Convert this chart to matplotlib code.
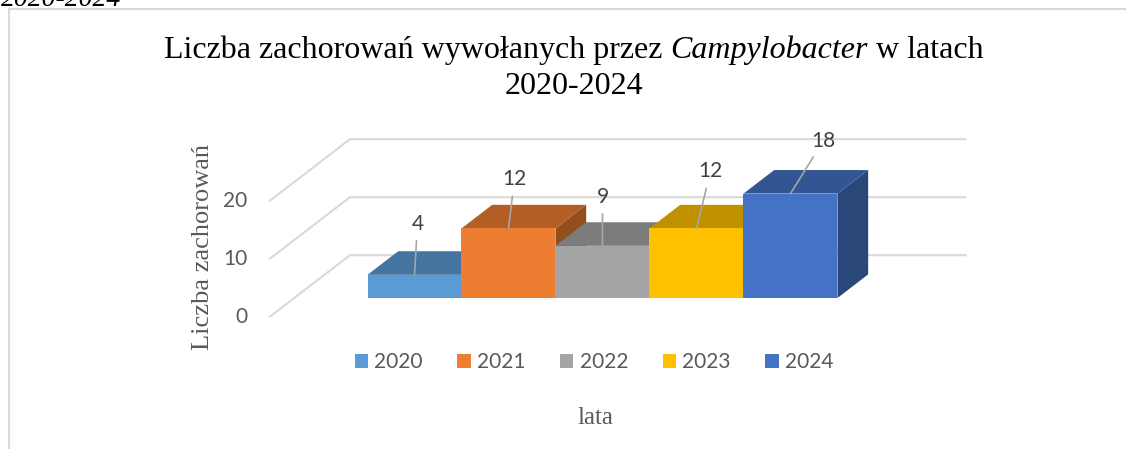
import matplotlib.pyplot as plt
import matplotlib.colors as mcolors
from matplotlib.patches import Polygon, Patch
from matplotlib.lines import Line2D

years = ['2020', '2021', '2022', '2023', '2024']
cases = [4, 12, 9, 12, 18]
colors = ['#5B9BD5', '#ED7D31', '#A5A5A5', '#FFC000', '#4472C4']
grid_values = [0, 10, 20]
# label offsets from bar top (pixels)
label_offsets = [(3, 51), (6, 49), (0, 49), (14, 57), (33, 53)]

plt.rcParams['font.family'] = ['Liberation Serif', 'DejaVu Serif']

W, H = 1126, 449
fig = plt.figure(figsize=(W / 100, H / 100), dpi=100)
ax = fig.add_axes([0, 0, 1, 1])
ax.set_xlim(-6.41, 5.57)
ax.set_ylim(-26.03, 51.38)
ax.axis('off')

# fake 3D: x unit = one bar width, y unit = one case
dx, dy = 0.86, 10.7          # full floor depth
f0, f1 = 0.31, 0.69          # bars sit between these depth fractions
floor_l, floor_r = -3.28, 3.28
ddx, ddy = (f1 - f0) * dx, (f1 - f0) * dy

num_font = dict(family='Lato', size=15)
grid_col = '#d9d9d9'
for g in grid_values:
    xs = [floor_l - f0 * dx, floor_l + (1 - f0) * dx, floor_r + (1 - f0) * dx]
    ys = [g - f0 * dy, g + (1 - f0) * dy, g + (1 - f0) * dy]
    ax.plot(xs, ys, color=grid_col, lw=1.5, zorder=1, solid_capstyle='butt')
    ax.annotate(str(g), xy=(xs[0], ys[0]), xytext=(-22, 0), textcoords='offset pixels',
                ha='right', va='center', color='#595959', **num_font)

for i, (v, c) in enumerate(zip(cases, colors)):
    rgb = mcolors.to_rgb(c)
    top_c = tuple(k * 0.75 for k in rgb)
    side_c = tuple(k * 0.62 for k in rgb)
    x0 = i - 2.5
    x1 = x0 + 1
    side = Polygon([(x1, 0), (x1 + ddx, ddy), (x1 + ddx, v + ddy), (x1, v)],
                   facecolor=side_c, lw=0, zorder=2)
    top = Polygon([(x0, v), (x1, v), (x1 + ddx, v + ddy), (x0 + ddx, v + ddy)],
                  facecolor=top_c, lw=0, zorder=2)
    front = Polygon([(x0, 0), (x1, 0), (x1, v), (x0, v)],
                    facecolor=c, lw=0, zorder=2)
    for p in (side, top, front):
        ax.add_patch(p)
    ox, oy = label_offsets[i]
    ax.annotate(str(v), xy=(i - 2, v), xytext=(ox, oy), textcoords='offset pixels',
                ha='center', va='center', color='#404040',
                arrowprops=dict(arrowstyle='-', color='#a6a6a6', lw=1.2,
                                shrinkA=3, shrinkB=0), zorder=3, **num_font)

handles = [Patch(facecolor=c, lw=0) for c in colors]
fig.legend(handles=handles, labels=years, loc='center',
           bbox_to_anchor=(594 / W, 1 - 362 / H), ncol=5, frameon=False,
           prop=num_font, labelcolor='#595959',
           handlelength=0.65, handleheight=0.65, handletextpad=0.3, columnspacing=1.65)

# title line 1 built from pieces so the species name can be italic
renderer = fig.canvas.get_renderer()
parts = [('Liczba zachorowań wywołanych przez\u00a0', 'normal'),
         ('Campylobacter', 'italic'),
         ('\u00a0w latach', 'normal')]
title_size = 23
pieces = []
for s, st in parts:
    t = fig.text(0, 1 - 58 / H, s, size=title_size, style=st, va='baseline',
                 ha='left', color='black')
    pieces.append((t, t.get_window_extent(renderer).width))
total = sum(w for _, w in pieces)
xpos = 574 - total / 2
for t, w in pieces:
    t.set_x(xpos / W)
    xpos += w
fig.text(574 / W, 1 - 94 / H, '2020-2024', ha='center', va='baseline',
         size=title_size, color='black')

fig.text(203 / W, 1 - 247 / H, 'Liczba zachorowań', rotation=90, ha='center', va='center',
         size=19, color='#595959')
fig.text(595 / W, 1 - 418 / H, 'lata', ha='center', va='center', size=18, color='#595959')

# cut-off caption above the chart (cut off in the source too)
fig.text(0.5 / W, 1 - 6 / H, '2020-2024', ha='left', va='baseline', size=20,
         style='italic', color='black')

# chart border
fig.add_artist(Line2D([9 / W, 9 / W], [0, 1 - 9 / H], color=grid_col, lw=1.5))
fig.add_artist(Line2D([9 / W, 1], [1 - 9 / H, 1 - 9 / H], color=grid_col, lw=1.5))

fig.savefig('out.png', dpi=100)
